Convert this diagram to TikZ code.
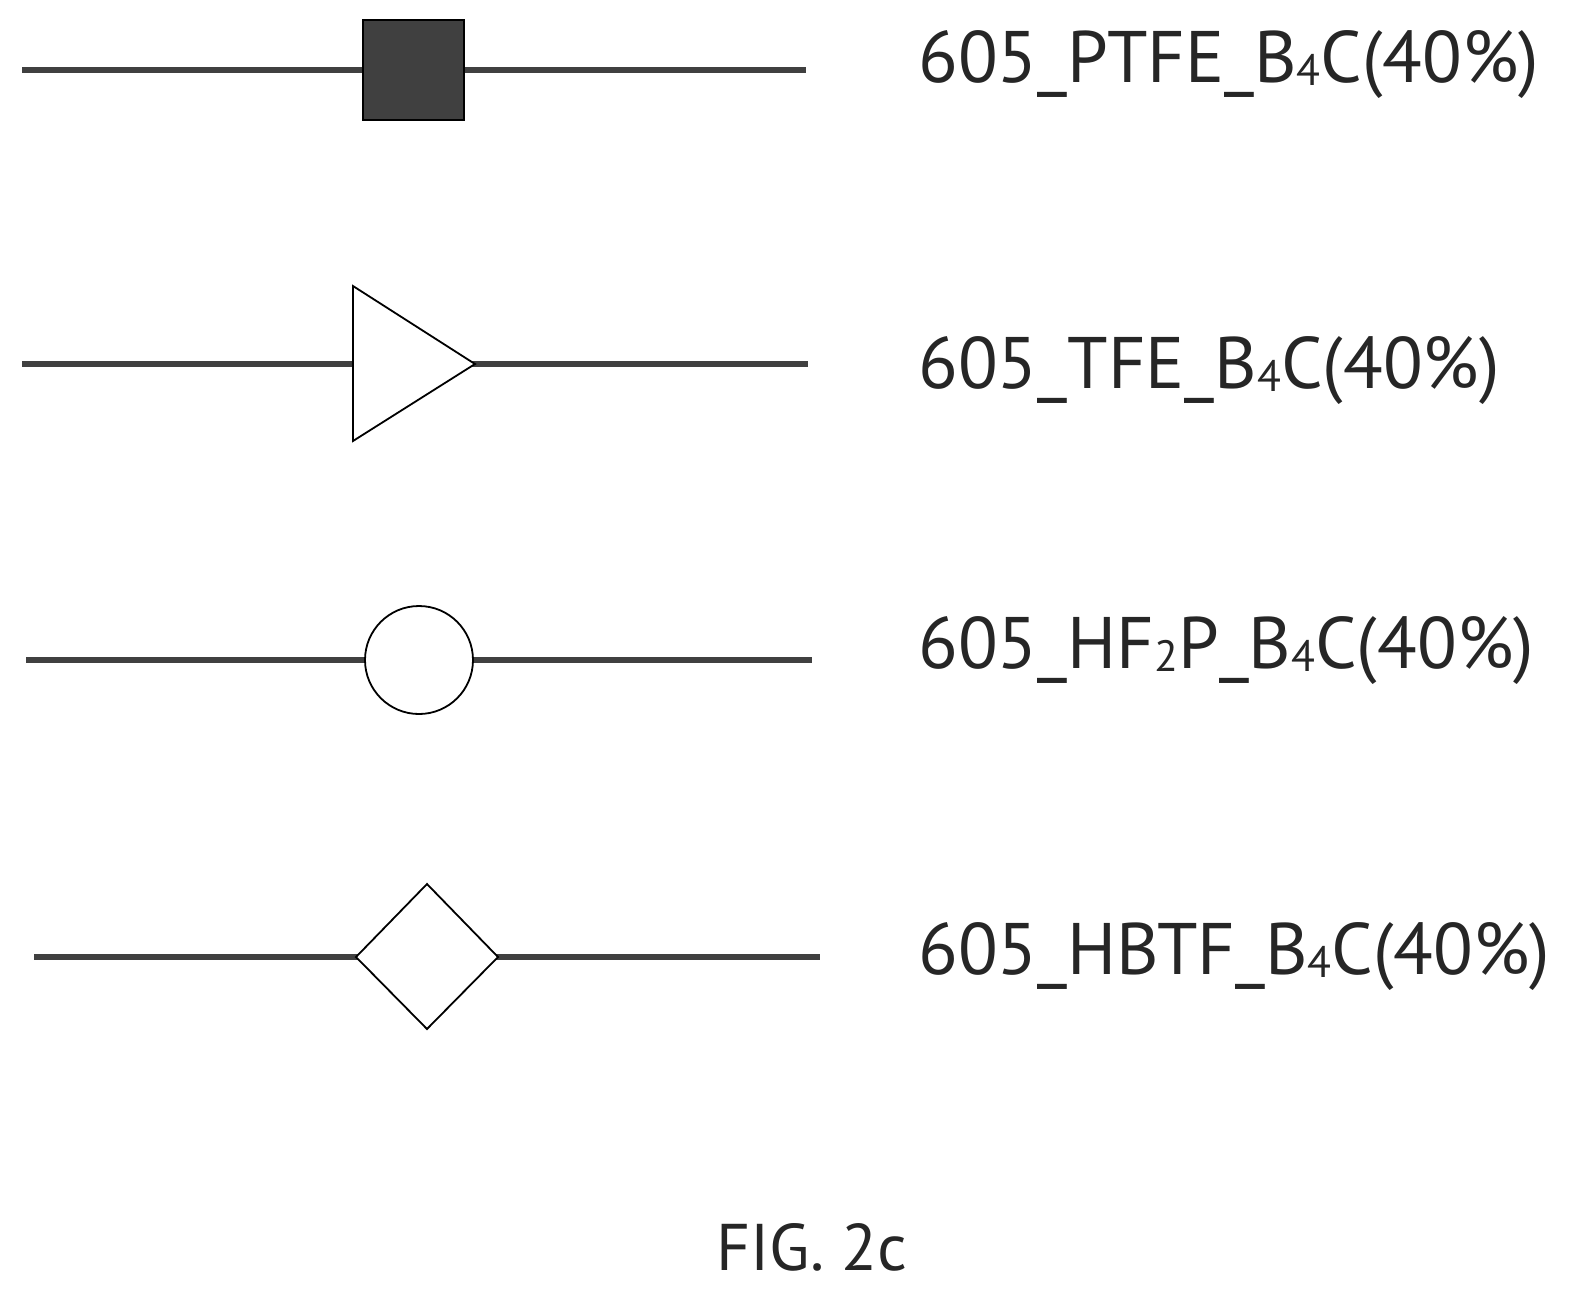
\documentclass[tikz,border=0pt]{standalone}
\usepackage{fontspec}
\setmainfont{PT Sans}
\newcommand{\lowsub}[1]{\raisebox{-0.05em}{\scalebox{0.6}{#1}}}
\begin{document}
\begin{tikzpicture}[x=0.5pt,y=-0.5pt,
  lead/.style={draw=black!75,line width=2.7pt},
  mk/.style={draw=black,line width=0.9pt,fill=white},
  lab/.style={anchor=base west,inner sep=0pt,font=\fontsize{36.5}{42}\selectfont,text=black!85}]
\useasboundingbox (0,0) rectangle (1585,1308);
% row 1
\coordinate (a1) at (22,70); \coordinate (b1) at (806,70);
\draw[lead] (a1) -- (b1);
\fill[black!75,draw=black,line width=0.9pt] (363,20) rectangle (464,120);
\node[lab] (t1) at (918,82) {605\_PTFE\_B\lowsub{4}C(40\%)};
% row 2
\coordinate (a2) at (22,364); \coordinate (b2) at (808,364);
\draw[lead] (a2) -- (b2);
\draw[mk] (353,286) -- (353,441) -- (475,364) -- cycle;
\node[lab] (t2) at (918,388) {605\_TFE\_B\lowsub{4}C(40\%)};
% row 3
\coordinate (a3) at (26,660); \coordinate (b3) at (812,660);
\draw[lead] (a3) -- (b3);
\draw[mk] (419,660) circle[radius=54];
\node[lab] (t3) at (918,668) {605\_HF\lowsub{2}P\_B\lowsub{4}C(40\%)};
% row 4
\coordinate (a4) at (34,957); \coordinate (b4) at (820,957);
\draw[lead] (a4) -- (b4);
\draw[mk] (356,957) -- (427,884) -- (498,957) -- (427,1029) -- cycle;
\node[lab] (t4) at (918,974) {605\_HBTF\_B\lowsub{4}C(40\%)};
% caption
\node[anchor=base,inner sep=0pt,font=\fontsize{33}{38}\selectfont,text=black!85] (cap) at (812,1270) {FIG. 2c};
\end{tikzpicture}
\end{document}
